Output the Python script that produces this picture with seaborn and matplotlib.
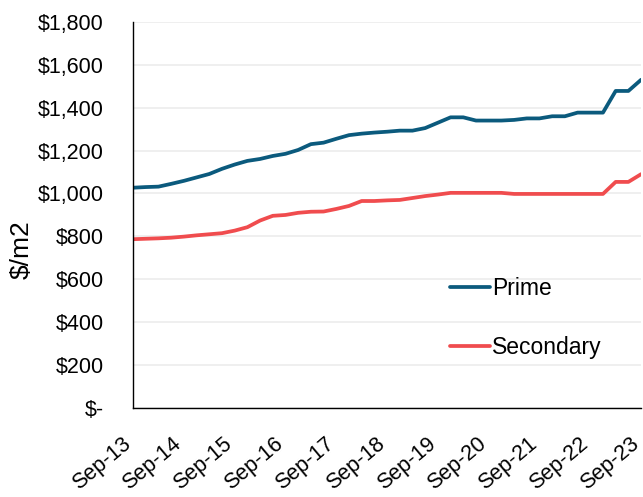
import numpy as np
import pandas as pd
import matplotlib
matplotlib.use("Agg")
import matplotlib.pyplot as plt
import matplotlib.transforms as mtransforms
from matplotlib.lines import Line2D
import seaborn as sns

# Quarterly rents, Sep-13 to Sep-23
quarters = pd.period_range("2013Q3", "2023Q3", freq="Q")
prime = [1027, 1030, 1032, 1045, 1059, 1075, 1091, 1115, 1135, 1152,
         1161, 1175, 1185, 1203, 1230, 1237, 1255, 1272, 1279, 1284,
         1288, 1293, 1293, 1305, 1330, 1355, 1355, 1340, 1340, 1340,
         1343, 1350, 1350, 1360, 1360, 1377, 1377, 1377, 1478, 1478,
         1530]
secondary = [787, 789, 791, 794, 799, 805, 810, 815, 827, 843,
             874, 896, 900, 910, 915, 916, 928, 942, 965, 965,
             968, 970, 979, 988, 995, 1003, 1003, 1003, 1003, 1003,
             998, 998, 998, 998, 998, 998, 998, 998, 1054, 1054,
             1090]
tick_labels = ["Sep-13", "Sep-14", "Sep-15", "Sep-16", "Sep-17", "Sep-18",
               "Sep-19", "Sep-20", "Sep-21", "Sep-22", "Sep-23"]
y_ticks = [0, 200, 400, 600, 800, 1000, 1200, 1400, 1600, 1800]

colors = {"Prime": "#0B5A7D", "Secondary": "#F04C4E"}

df = pd.DataFrame({
    "q": np.arange(len(quarters)),
    "Prime": prime,
    "Secondary": secondary,
}).melt(id_vars="q", var_name="grade", value_name="rent")

sns.set_style("white")
plt.rcParams["font.family"] = ["Liberation Sans", "DejaVu Sans"]
plt.rcParams["text.color"] = "black"
plt.rcParams["xtick.labelcolor"] = "black"
plt.rcParams["ytick.labelcolor"] = "black"
plt.rcParams["axes.labelcolor"] = "black"

fig = plt.figure(figsize=(6.43, 4.97), dpi=100)
ax = fig.add_axes([0.207, 0.179, 0.790, 0.777])

sns.lineplot(data=df, x="q", y="rent", hue="grade", palette=colors,
             linewidth=2.7, ax=ax, legend=False)

ax.set_xlim(0, 40)
ax.set_ylim(0, 1800)
ax.set_yticks(y_ticks)
ax.set_yticklabels(["$-" if v == 0 else f"${v:,}" for v in y_ticks],
                   fontsize=15.5, color="black")
ax.grid(axis="y", color="#ececec", linewidth=1.2)
ax.set_axisbelow(True)
for s in ["top", "right"]:
    ax.spines[s].set_visible(False)
for s in ["left", "bottom"]:
    ax.spines[s].set_color("black")
    ax.spines[s].set_linewidth(1.0)
ax.tick_params(axis="both", which="major", direction="out", length=6,
               width=0.8, color="#555555")
ax.tick_params(axis="x", pad=18)
ax.tick_params(axis="y", pad=15)

# Rotated year labels, nudged left so the last one stays on the canvas
ax.set_xticks(np.arange(0, 41, 4))
ax.set_xticklabels(tick_labels, rotation=40, ha="right", va="center",
                   rotation_mode="anchor", fontsize=15.5, color="black")
shift = mtransforms.ScaledTranslation(-5 / 100, 0, fig.dpi_scale_trans)
for tick in ax.xaxis.get_major_ticks():
    tick.label1.set_transform(tick.label1.get_transform() + shift)

ax.set_xlabel("")
ax.set_ylabel("$/m2", fontsize=19, color="black")
ax.yaxis.set_label_coords(-0.196, 0.41)

# Legend as two line keys inside the plot area
handles = [Line2D([], [], color=colors["Prime"], linewidth=2.7),
           Line2D([], [], color=colors["Secondary"], linewidth=2.7)]
leg = ax.legend(handles, ["Prime", "Secondary"], loc="upper left",
                bbox_to_anchor=(450 / 643, 1 - 277 / 497),
                bbox_transform=fig.transFigure, frameon=False,
                borderpad=0, borderaxespad=0,
                handlelength=1.75, handletextpad=0.1, labelspacing=1.55,
                prop={"size": 16.5})
for t in leg.get_texts():
    t.set_color("black")

fig.savefig("out.png", dpi=100)
